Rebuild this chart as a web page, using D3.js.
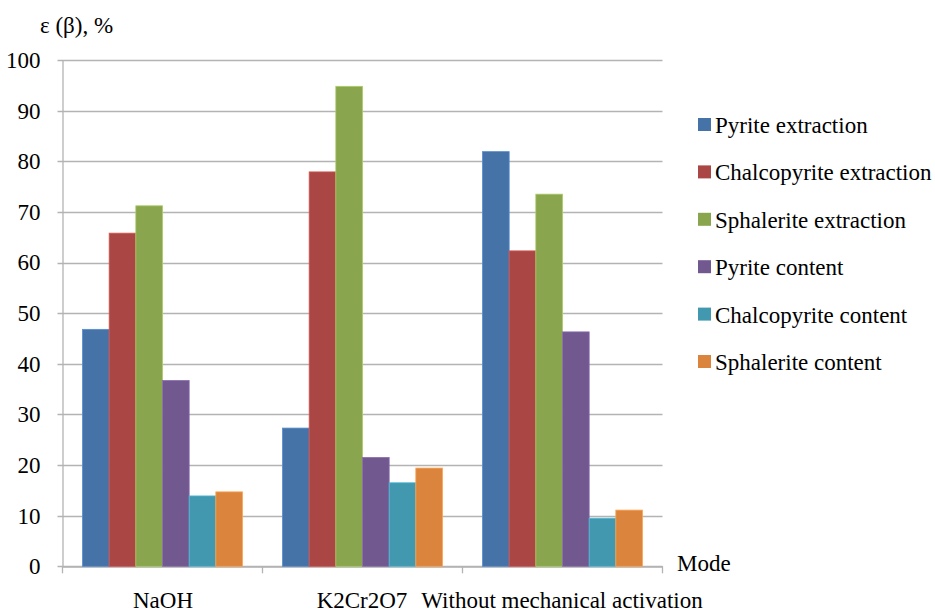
<!DOCTYPE html>
<html>
<head>
<meta charset="utf-8">
<script src="https://cdn.jsdelivr.net/npm/d3@7"></script>
<style>
  body { margin: 0; background: #fff; }
</style>
</head>
<body>
<div id="chart"></div>
<script>
// data
var modes = ["NaOH", "K2Cr2O7", "Without mechanical activation"];
var seriesNames = ["Pyrite extraction", "Chalcopyrite extraction", "Sphalerite extraction",
                   "Pyrite content", "Chalcopyrite content", "Sphalerite content"];
var colors = ["#4572A7", "#AA4643", "#89A54E", "#71588F", "#4198AF", "#DB843D"];
var pyriteExtraction = [46.8, 27.3, 81.9];
var chalcopyriteExtraction = [65.8, 77.9, 62.3];
var sphaleriteExtraction = [71.2, 94.8, 73.5];
var pyriteContent = [36.7, 21.5, 46.3];
var chalcopyriteContent = [13.9, 16.5, 9.5];
var sphaleriteContent = [14.7, 19.4, 11.1];
var yTicks = [0, 10, 20, 30, 40, 50, 60, 70, 80, 90, 100];

var series = [pyriteExtraction, chalcopyriteExtraction, sphaleriteExtraction,
              pyriteContent, chalcopyriteContent, sphaleriteContent];

var width = 935,
    height = 614,
    plotLeft = 62.5, plotRight = 662.5,
    plotTop = 60, plotBottom = 566.3,
    fontFamily = "'Liberation Serif', 'Times New Roman', serif",
    fontSize = "23px";

var svg = d3.select("#chart").append("svg")
    .attr("width", width)
    .attr("height", height)
    .style("font-family", fontFamily);

var y = d3.scaleLinear().domain([0, 100]).range([plotBottom, plotTop]);
var x0 = d3.scaleBand().domain(modes).range([plotLeft, plotRight]).paddingInner(0).paddingOuter(0);
var x1 = d3.scaleBand().domain(d3.range(seriesNames.length))
    .range([0, x0.bandwidth()]).paddingOuter(0.75).paddingInner(0);

// gridlines
svg.append("g")
  .selectAll("line")
  .data(yTicks)
  .enter().append("line")
    .attr("x1", plotLeft - 5).attr("x2", plotRight)
    .attr("y1", function(d) { return Math.round(y(d)) + 0.5; })
    .attr("y2", function(d) { return Math.round(y(d)) + 0.5; })
    .attr("stroke", "#b3b3b3")
    .attr("stroke-width", 1.3);

// y axis
var yAxis = svg.append("g")
    .attr("transform", "translate(" + plotLeft + ",0)")
    .call(d3.axisLeft(y).tickValues(yTicks).tickSize(0).tickPadding(22));
yAxis.attr("font-family", null).attr("font-size", null);
yAxis.select(".domain").attr("stroke", "#b3b3b3").attr("stroke-width", 1.3);
yAxis.selectAll("text")
    .style("font-family", fontFamily)
    .style("font-size", fontSize)
    .attr("fill", "#000");

// x axis
var xAxis = svg.append("g")
    .attr("transform", "translate(0," + (Math.round(plotBottom) + 0.5) + ")")
    .call(d3.axisBottom(x0).tickSize(0).tickFormat(""));
xAxis.select(".domain").attr("stroke", "#b3b3b3").attr("stroke-width", 1.3);

var xTickPos = [plotLeft].concat(modes.map(function(m) { return x0(m) + x0.bandwidth(); }));
svg.append("g")
  .selectAll("line")
  .data(xTickPos)
  .enter().append("line")
    .attr("x1", function(d) { return d; })
    .attr("x2", function(d) { return d; })
    .attr("y1", plotBottom)
    .attr("y2", plotBottom + 7)
    .attr("stroke", "#b3b3b3")
    .attr("stroke-width", 1.3);

// category labels
var labelX = [163, 362, 562];
svg.append("g")
  .selectAll("text")
  .data(modes)
  .enter().append("text")
    .attr("x", function(d, i) { return labelX[i]; })
    .attr("y", 608)
    .attr("text-anchor", "middle")
    .style("font-family", fontFamily)
    .style("font-size", fontSize)
    .text(function(d) { return d; });

// bars
var groups = svg.append("g")
  .selectAll("g")
  .data(modes)
  .enter().append("g")
    .attr("transform", function(d) { return "translate(" + x0(d) + ",0)"; });

groups.selectAll("rect")
  .data(function(d, i) { return series.map(function(s, k) { return { k: k, v: s[i] }; }); })
  .enter().append("rect")
    .attr("x", function(d) { return x1(d.k); })
    .attr("width", x1.bandwidth())
    .attr("y", function(d) { return y(d.v); })
    .attr("height", function(d) { return plotBottom - y(d.v); })
    .attr("fill", function(d) { return colors[d.k]; })
    .attr("stroke", function(d) { return d3.color(colors[d.k]).brighter(0.6); })
    .attr("stroke-width", 0.8);

// axis titles
svg.append("text")
    .attr("x", 40).attr("y", 33)
    .style("font-family", fontFamily)
    .style("font-size", fontSize)
    .text("ε (β), %");

svg.append("text")
    .attr("x", 677).attr("y", 571)
    .style("font-family", fontFamily)
    .style("font-size", fontSize)
    .text("Mode");

// legend
var legend = svg.append("g")
  .selectAll("g")
  .data(seriesNames)
  .enter().append("g")
    .attr("transform", function(d, i) { return "translate(698," + (125 + i * 47.4) + ")"; });

legend.append("rect")
    .attr("x", 0).attr("y", -7)
    .attr("width", 13).attr("height", 13)
    .attr("fill", function(d, i) { return colors[i]; });

legend.append("text")
    .attr("x", 17).attr("y", 8)
    .style("font-family", fontFamily)
    .style("font-size", fontSize)
    .text(function(d) { return d; });
</script>
</body>
</html>
